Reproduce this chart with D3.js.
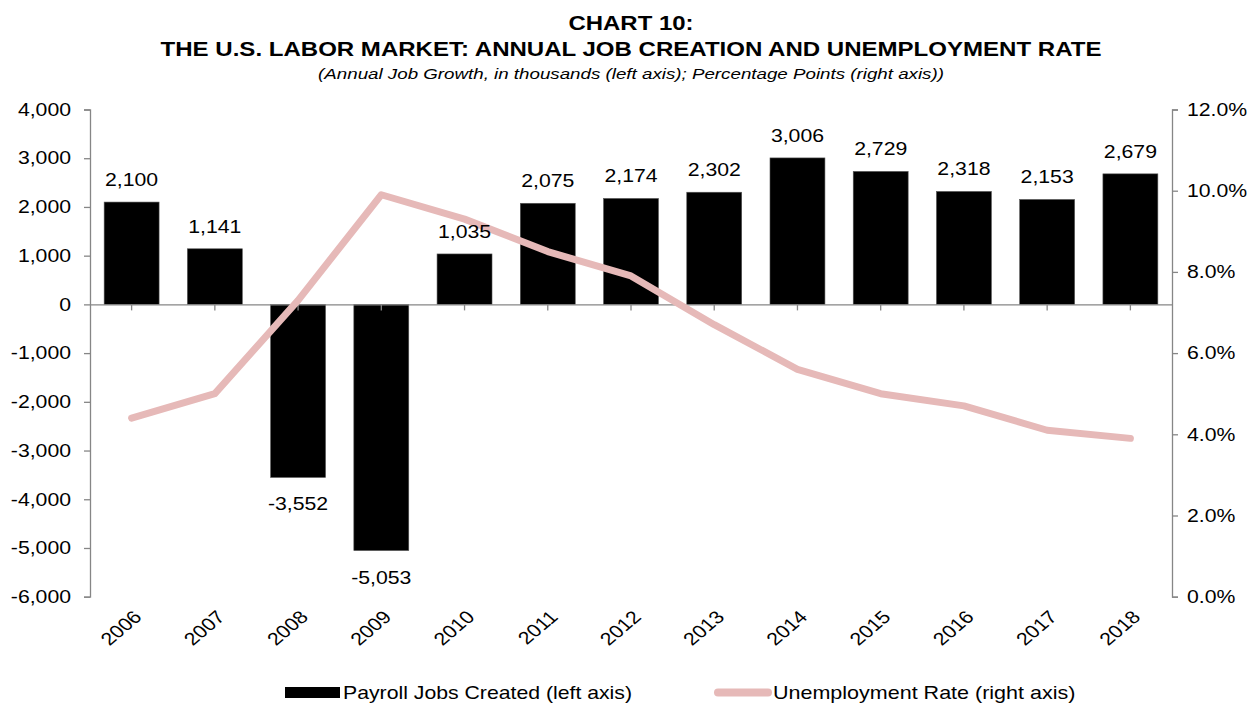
<!DOCTYPE html>
<html>
<head>
<meta charset="utf-8">
<script src="https://cdn.jsdelivr.net/npm/d3@7/dist/d3.min.js"></script>
<style>
  html, body { margin: 0; padding: 0; background: #fff; }
  svg { display: block; font-family: "Liberation Sans", Arial, sans-serif; }
</style>
</head>
<body>
<svg id="chart" width="1255" height="704"></svg>
<script>
// Annual payroll job growth (thousands) and December unemployment rate (%)
const years = ["2006", "2007", "2008", "2009", "2010", "2011", "2012",
               "2013", "2014", "2015", "2016", "2017", "2018"];
const jobsCreated = [2100, 1141, -3552, -5053, 1035, 2075, 2174,
                     2302, 3006, 2729, 2318, 2153, 2679];
const unemploymentRate = [4.4, 5.0, 7.3, 9.9, 9.3, 8.5, 7.9,
                          6.7, 5.6, 5.0, 4.7, 4.1, 3.9];
const leftTicks = [4000, 3000, 2000, 1000, 0, -1000, -2000, -3000, -4000, -5000, -6000];
const rightTicks = [12, 10, 8, 6, 4, 2, 0];

const titleLines = ["CHART 10:", "THE U.S. LABOR MARKET: ANNUAL JOB CREATION AND UNEMPLOYMENT RATE"];
const subtitle = "(Annual Job Growth, in thousands (left axis); Percentage Points (right axis))";
const legendLabels = ["Payroll Jobs Created (left axis)", "Unemployment Rate (right axis)"];

const svg = d3.select("#chart");
const plot = { left: 90, right: 1172, top: 109.5, bottom: 596.7 };
const axisColor = "#868686";
const lineColor = "#e6b9b8";
const fontSize = 18;
const wide = 1.18;   // horizontal widening applied to the chart's lettering

const x = d3.scaleBand().domain(years).range([plot.left, plot.right]).paddingInner(0.34).paddingOuter(0.17);
const yL = d3.scaleLinear().domain([-6000, 4000]).range([plot.bottom, plot.top]);
const yR = d3.scaleLinear().domain([0, 12]).range([plot.bottom, plot.top]);
const locale = d3.formatLocale({ decimal: ".", thousands: ",", grouping: [3], currency: ["$", ""], minus: "-" });
const fmt = locale.format(",");

// Place text at (x, y) with letters widened horizontally by factor s
function wideText(parent, px, py, s, str) {
  return parent.append("text")
    .attr("transform", `translate(${px},${py}) scale(${s},1)`)
    .text(str);
}
// Widen text already positioned by an axis generator
function widenAxisText(g, s) {
  g.selectAll(".tick text").each(function () {
    const t = d3.select(this);
    const tx = +t.attr("x") || 0;
    t.attr("x", tx / s).attr("transform", `scale(${s},1)`);
  });
}

// Titles
wideText(svg, 631, 30, 1.14, titleLines[0]).attr("text-anchor", "middle")
  .attr("font-weight", "bold").attr("font-size", 21);
wideText(svg, 631, 56, 1.145, titleLines[1]).attr("text-anchor", "middle")
  .attr("font-weight", "bold").attr("font-size", 21);
wideText(svg, 631, 79, 1.21, subtitle).attr("text-anchor", "middle")
  .attr("font-style", "italic").attr("font-size", 15.5);

// Bars
svg.append("g").selectAll("rect").data(years).join("rect")
  .attr("x", d => x(d))
  .attr("width", x.bandwidth())
  .attr("y", (d, i) => Math.min(yL(jobsCreated[i]), yL(0)))
  .attr("height", (d, i) => Math.abs(yL(jobsCreated[i]) - yL(0)))
  .attr("fill", "#000")
  .attr("stroke", "#555").attr("stroke-width", 0.6);

// Left axis
const gL = svg.append("g").attr("transform", `translate(${plot.left},0)`)
  .call(d3.axisLeft(yL).tickValues(leftTicks).tickFormat(fmt).tickSize(6).tickPadding(13));
// Right axis
const gR = svg.append("g").attr("transform", `translate(${plot.right},0)`)
  .call(d3.axisRight(yR).tickValues(rightTicks).tickFormat(d => d.toFixed(1) + "%").tickSize(6).tickPadding(9));
[gL, gR].forEach(g => {
  g.select(".domain").attr("stroke", axisColor).attr("stroke-width", 1.3);
  g.selectAll(".tick line").attr("stroke", axisColor).attr("stroke-width", 1.3);
  g.selectAll(".tick text").attr("font-size", fontSize).attr("fill", "#000")
    .attr("font-family", "Liberation Sans, Arial, sans-serif");
  widenAxisText(g, wide);
});

// Category axis along zero
const gX = svg.append("g").attr("transform", `translate(0,${yL(0)})`)
  .call(d3.axisBottom(x).tickSize(6).tickSizeOuter(0).tickFormat(""));
gX.select(".domain").attr("stroke", axisColor).attr("stroke-width", 1.3);
gX.selectAll(".tick line").attr("stroke", axisColor).attr("stroke-width", 1.3);

// Year labels, rotated
svg.append("g").selectAll("text").data(years).join("text")
  .attr("transform", d => `translate(${x(d) + x.bandwidth() / 2 + 6},${plot.bottom + 17}) scale(${wide},1) rotate(-45)`)
  .attr("text-anchor", "end").attr("dy", "0.35em")
  .attr("font-size", fontSize).text(d => d);

// Unemployment line
const line = d3.line()
  .x((d, i) => x(years[i]) + x.bandwidth() / 2)
  .y(d => yR(d));
svg.append("path").datum(unemploymentRate)
  .attr("d", line).attr("fill", "none")
  .attr("stroke", lineColor).attr("stroke-width", 7)
  .attr("stroke-linecap", "round").attr("stroke-linejoin", "round");

// Value labels
const gV = svg.append("g").attr("font-size", fontSize).attr("text-anchor", "middle");
years.forEach((d, i) => {
  const v = jobsCreated[i];
  const ly = v >= 0 ? yL(v) - 16 : yL(v) + 33;
  wideText(gV, x(d) + x.bandwidth() / 2, ly, wide, fmt(v));
});

// Legend
const lg = svg.append("g").attr("font-size", fontSize);
lg.append("rect").attr("x", 285).attr("y", 687).attr("width", 55).attr("height", 11).attr("fill", "#000");
wideText(lg, 343, 699, wide, legendLabels[0]);
lg.append("line").attr("x1", 718).attr("x2", 768).attr("y1", 692.5).attr("y2", 692.5)
  .attr("stroke", lineColor).attr("stroke-width", 8).attr("stroke-linecap", "round");
wideText(lg, 773, 699, 1.195, legendLabels[1]);
</script>
</body>
</html>
